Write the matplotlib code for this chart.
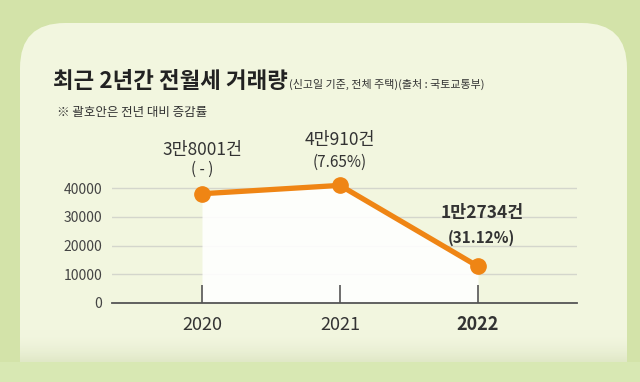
import numpy as np
import matplotlib
matplotlib.use("Agg")
import matplotlib.pyplot as plt
from matplotlib.patches import FancyBboxPatch, Rectangle

plt.rcParams['font.family'] = ['Noto Sans CJK KR', 'DejaVu Sans']

years = [2020, 2021, 2022]
volumes = [38001, 40910, 12734]
count_labels = ['3만8001건', '4만910건', '1만2734건']
change_labels = ['( - )', '(7.65%)', '(31.12%)']
y_ticks = [0, 10000, 20000, 30000, 40000]

W, H = 640, 382
fig = plt.figure(figsize=(W / 100, H / 100), dpi=100)
fig.patch.set_facecolor('#d3e3a9')

# background layer in pixel coordinates
bg = fig.add_axes([0, 0, 1, 1])
bg.set_xlim(0, W)
bg.set_ylim(H, 0)
bg.axis('off')

card = FancyBboxPatch((20 + 45, 23 + 45), 607 - 90, 420 - 90,
                      boxstyle='round,pad=45', fc='#f2f6df', ec='none')
bg.add_patch(card)
# soft shade near card bottom
grad = np.linspace(0, 1, 50).reshape(-1, 1)
bg.imshow(grad, extent=(20, 627, 362, 330), cmap=matplotlib.colors.LinearSegmentedColormap.from_list(
    'sh', [(0.949, 0.965, 0.875, 0.0), (0.88, 0.91, 0.78, 1.0)]), aspect='auto', zorder=2)
bg.add_patch(Rectangle((0, 362), W, 20, fc='#d8e8b3', ec='none', zorder=3))

title = bg.text(53, 88, '최근 2년간 전월세 거래량', fontsize=16.1, fontweight='bold', color='#222222')
fig.canvas.draw()
tx = title.get_window_extent().x1
bg.text(tx + 1, 88, '(신고일 기준, 전체 주택)(출처 : 국토교통부)', fontsize=7.9, color='#333333')
bg.text(57, 116, '※ 괄호안은 전년 대비 증감률', fontsize=9, color='#333333')

# chart axes: y=0 at 303px, 10000 per 28.75px; 2020 at 202px, 138px per year
ymax = 48000
px_per = 28.75 / 10000
ax_left, ax_right = 112, 577
ax_bottom_px = 303
ax = fig.add_axes([ax_left / W, (H - ax_bottom_px) / H,
                   (ax_right - ax_left) / W, ymax * px_per / H])
ax.patch.set_alpha(0)
ax.set_xlim(2020 - 90 / 138, 2022 + 99 / 138)
ax.set_ylim(0, ymax)

for v in y_ticks[1:]:
    ax.axhline(v, color='#d4d6cc', lw=1, zorder=0.5)
ax.fill_between(years, volumes, 0, color='white', alpha=0.9, lw=0, zorder=1)
ax.plot(years, volumes, color='#ef8514', lw=3.8, solid_capstyle='round',
        marker='o', markersize=11, zorder=4, clip_on=False)

for s in ['top', 'right', 'left']:
    ax.spines[s].set_visible(False)
ax.spines['bottom'].set_color('#555555')
ax.spines['bottom'].set_linewidth(1.3)
ax.spines['bottom'].set_zorder(5)

ax.set_yticks(y_ticks)
ax.set_yticklabels([str(v) for v in y_ticks], fontsize=10, color='#444444')
ax.tick_params(axis='y', length=0, pad=7)
ax.set_xticks(years)
ax.set_xticklabels([str(y) for y in years], fontsize=13, color='#333333')
ax.get_xticklabels()[-1].set_fontweight('bold')
ax.tick_params(axis='x', direction='in', length=13, width=1.2, color='#555555', pad=9)
ax.set_axisbelow(False)

offsets = [((0, 44), (0, 24)), ((0, 45), (0, 23)), ((4, 53), (3, 29))]
for i, (yr, v) in enumerate(zip(years, volumes)):
    bold = 'bold' if i == 2 else 'normal'
    (dx1, dy1), (dx2, dy2) = offsets[i]
    ax.annotate(count_labels[i], (yr, v), xytext=(dx1, dy1), textcoords='offset pixels',
                ha='center', va='center', fontsize=12.5, fontweight=bold, color='#333333')
    ax.annotate(change_labels[i], (yr, v), xytext=(dx2, dy2), textcoords='offset pixels',
                ha='center', va='center', fontsize=11, fontweight=bold, color='#333333')

fig.savefig('out.png', dpi=100, facecolor=fig.get_facecolor())
